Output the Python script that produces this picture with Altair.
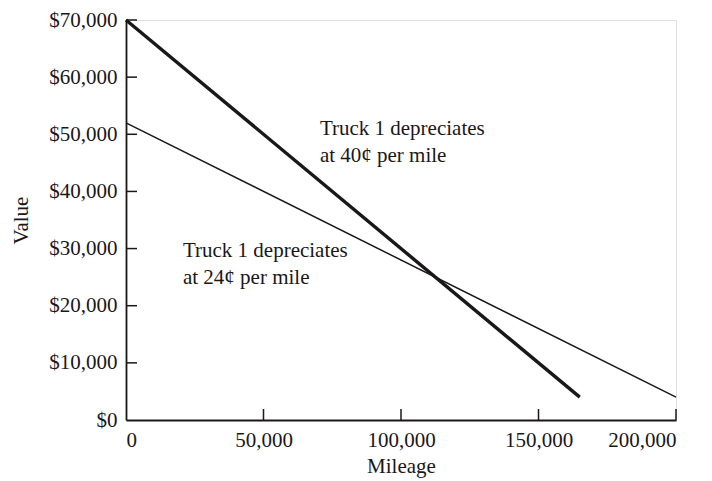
import altair as alt
import pandas as pd

# Data
series = ["40c", "40c", "24c", "24c"]
mileage = [0, 165000, 0, 200000]
value = [70000, 4000, 52000, 4000]
x_ticks = [50000, 100000, 150000, 200000]
y_ticks = [10000, 20000, 30000, 40000, 50000, 60000, 70000]
ann_text = [["Truck 1 depreciates", "at 40¢ per mile"], ["Truck 1 depreciates", "at 24¢ per mile"]]
ann_x = [70500, 20700]
ann_y = [49875, 28525]

FONT = "Liberation Serif"
INK = "#1a1718"

df = pd.DataFrame({"series": series, "mileage": mileage, "value": value})
xt = pd.DataFrame({"t": x_ticks})
yt = pd.DataFrame({"t": y_ticks})
ann = pd.DataFrame({"text": ann_text, "x": ann_x, "y": ann_y})

xscale = alt.Scale(domain=[0, 200000], nice=False)
yscale = alt.Scale(domain=[0, 70000], nice=False)

xaxis = alt.Axis(values=[0, 50000, 100000, 150000, 200000], format=",.0f", title="Mileage",
                 tickSize=0, labelPadding=9, grid=False, domainColor=INK, domainWidth=1.8,
                 labelFont=FONT, labelFontSize=21, labelColor=INK, titleFont=FONT,
                 titleFontSize=21, titleFontWeight="normal", titleColor=INK, titlePadding=5)
yaxis = alt.Axis(values=[0] + y_ticks, format="$,.0f", title="Value",
                 tickSize=0, labelPadding=9, grid=False, domainColor=INK, domainWidth=1.8,
                 labelFont=FONT, labelFontSize=21, labelColor=INK, titleFont=FONT,
                 titleFontSize=21, titleFontWeight="normal", titleColor=INK, titlePadding=17)

thick = alt.Chart(df).transform_filter(alt.datum.series == "40c").mark_line(
    color=INK, strokeWidth=3.4).encode(
    x=alt.X("mileage:Q", scale=xscale, axis=xaxis),
    y=alt.Y("value:Q", scale=yscale, axis=yaxis),
)
thin = alt.Chart(df).transform_filter(alt.datum.series == "24c").mark_line(
    color=INK, strokeWidth=1.5).encode(
    x=alt.X("mileage:Q", scale=xscale),
    y=alt.Y("value:Q", scale=yscale),
)

xtick_marks = alt.Chart(xt).mark_rule(color=INK, strokeWidth=1.5).encode(
    x=alt.X("t:Q", scale=xscale), y=alt.value(400), y2=alt.value(389))
ytick_marks = alt.Chart(yt).mark_rule(color=INK, strokeWidth=1.5).encode(
    y=alt.Y("t:Q", scale=yscale), x=alt.value(0), x2=alt.value(11))

texts = alt.Chart(ann).mark_text(align="left", baseline="alphabetic", font=FONT,
                                 fontSize=21, lineHeight=27, color=INK).encode(
    x=alt.X("x:Q", scale=xscale), y=alt.Y("y:Q", scale=yscale), text="text")

chart = alt.layer(thin, thick, xtick_marks, ytick_marks, texts).properties(
    width=550, height=400,
    autosize=alt.AutoSizeParams(type="none"),
    padding={"left": 118, "top": 12, "right": 28, "bottom": 60},
).configure_view(stroke="transparent", strokeWidth=0).configure(background="white")

chart.save("out.html", embed_options={"renderer": "svg", "actions": False})
